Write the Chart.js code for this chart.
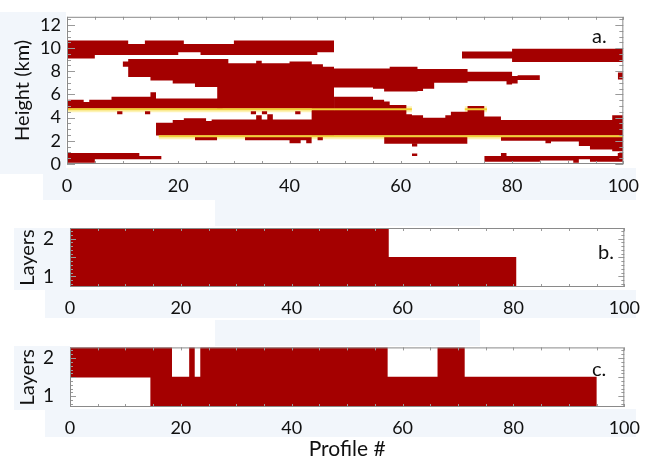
<!DOCTYPE html>
<html>
<head>
<meta charset="utf-8">
<script src="https://cdn.jsdelivr.net/npm/chart.js@4.4.0/dist/chart.umd.min.js"></script>
<style>
    body { margin: 0; background: #fff; }
    #wrap { position: relative; width: 650px; height: 462px; overflow: hidden; font-family: Lato, sans-serif; }
    .shade { position: absolute; background: #f2f6fb; }
    canvas { position: absolute; left: 0; }
    .tag { position: absolute; font-size: 20px; color: #111; line-height: 1; }
</style>
</head>
<body>
<div id="wrap">
    <div class="shade" style="left:0;top:12px;width:66px;height:162px"></div>
    <div class="shade" style="left:43px;top:168px;width:593px;height:32px"></div>
    <div class="shade" style="left:215px;top:200px;width:265px;height:26px"></div>
    <div class="shade" style="left:14px;top:228px;width:56px;height:62px"></div>
    <div class="shade" style="left:45px;top:290px;width:591px;height:28px"></div>
    <div class="shade" style="left:215px;top:320px;width:265px;height:26px"></div>
    <div class="shade" style="left:14px;top:346px;width:56px;height:64px"></div>
    <div class="shade" style="left:45px;top:409px;width:591px;height:28px"></div>

    <canvas id="chartA" width="650" height="205" style="top:0"></canvas>
    <canvas id="chartB" width="650" height="120" style="top:200px"></canvas>
    <canvas id="chartC" width="650" height="142" style="top:320px"></canvas>

    <div class="tag" style="left:592px;top:25px">a.</div>
    <div class="tag" style="left:598px;top:241px">b.</div>
    <div class="tag" style="left:592px;top:358px">c.</div>
</div>

<script>
/*Axis ticks*/
var profileTicks = [0, 20, 40, 60, 80, 100];
var heightTicks = [0, 2, 4, 6, 8, 10, 12];
var layerTicks = [1, 2];

/*Panel a - cloud runs: [first profile, end profile, base km, top km]
  runs that follow on without a break are drawn as one shape*/
var cirrusRuns = [
    [0, 5, 9.1, 10.65], [5, 11, 9.4, 10.65], [11, 14, 9.4, 10.35], [14, 20, 9.4, 10.65],
    [20, 21, 9.65, 10.65], [21, 24, 9.65, 10.35], [24, 30, 9.4, 10.35], [30, 45, 9.4, 10.65],
    [45, 48, 9.65, 10.65],
    [71, 80, 9.1, 9.7], [80, 100, 8.8, 9.95]
];
var edgeRuns = [[99, 100, 7.3, 7.9]];
var midLeftRuns = [
    [10, 11, 8.4, 8.85], [11, 15, 7.5, 9.05], [15, 19, 7.2, 9.05], [19, 23, 6.95, 9.05],
    [23, 27, 6.65, 9.05], [27, 29, 4.78, 9.05], [29, 34, 4.78, 8.7], [34, 35, 4.78, 8.9],
    [35, 40, 4.78, 8.7], [40, 44, 4.78, 8.85], [44, 46, 2.45, 8.6], [46, 48, 2.45, 8.4]
];
var midRightRuns = [
    [47, 55, 6.6, 8.25], [55, 57, 6.5, 8.25], [57, 58, 6.25, 8.25], [58, 63, 6.25, 8.4],
    [63, 64, 6.3, 8.2], [64, 66, 6.5, 8.2], [66, 72, 7.0, 8.2], [72, 79, 7.15, 7.95],
    [79, 80, 6.85, 7.95], [80, 81, 6.95, 7.6], [81, 85, 7.25, 7.65]
];
var fiveKmRuns = [
    [0, 3, 4.78, 5.55], [3, 4, 4.78, 5.35], [4, 8, 4.78, 5.55], [8, 15, 4.78, 5.8],
    [15, 16, 4.78, 6.2], [16, 28, 4.78, 5.65]
];
var lowerRuns = [
    [16, 19, 2.45, 3.55], [19, 21, 2.45, 3.8], [21, 25, 2.45, 3.95], [25, 26, 2.45, 3.7],
    [26, 34, 2.45, 3.85], [34, 35, 2.45, 4.2], [35, 36, 2.45, 3.85], [36, 37, 2.45, 4.3],
    [37, 44, 2.45, 3.85], [44, 48, 2.45, 4.6], [48, 55, 2.45, 5.8], [55, 57, 2.45, 5.55],
    [57, 58, 2.45, 5.4], [58, 61, 2.45, 5.1], [61, 62, 2.45, 4.3], [62, 64, 2.45, 4.2],
    [64, 68, 2.45, 4.0], [68, 69, 2.45, 4.2], [69, 72, 2.45, 4.5], [72, 75, 2.45, 5.0],
    [75, 78, 2.45, 4.1], [78, 98, 2.45, 3.8], [98, 100, 2.45, 4.2]
];
var dotRuns = [
    [9, 10, 4.3, 4.55], [14, 15, 4.3, 4.55], [33, 34, 4.3, 4.55], [35, 36, 4.3, 4.55], [41, 42, 4.3, 4.55]
];
var belowBaseRuns = [
    [23, 27, 2.05, 2.35],
    [32, 40, 2.05, 2.35], [40, 42, 1.8, 2.35], [42, 43, 2.05, 2.35], [43, 44, 1.8, 2.35],
    [45, 46, 2.05, 2.35],
    [57, 72, 1.75, 2.35], [62, 63, 1.5, 1.8], [62, 63, 0.7, 0.9],
    [78, 86, 2.0, 2.35], [86, 87, 1.8, 2.35], [87, 92, 1.95, 2.35], [92, 94, 1.55, 2.35],
    [94, 98, 1.25, 2.35], [98, 100, 1.1, 2.35]
];
var surfaceRuns = [
    [0, 5, 0.1, 0.95], [5, 13, 0.4, 0.95], [13, 17, 0.4, 0.7],
    [75, 78, 0.2, 0.7], [78, 79, 0.2, 0.95], [79, 85, 0.2, 0.7], [85, 91, 0.3, 0.7],
    [91, 92, 0.1, 0.7], [92, 94, 0.4, 0.7], [94, 99, 0.2, 0.7], [99, 100, 0.2, 0.95]
];

/*Panel a - yellow lines*/
var upperLineProfiles = [0, 62];
var upperLineHeights = [4.72, 4.72];
var upperLine2Profiles = [71.5, 75.5];
var upperLine2Heights = [4.72, 4.72];
var lowerLineProfiles = [16.5, 100];
var lowerLineHeights = [2.4, 2.4];

/*Panels b and c - layer runs: [from profile, to profile]*/
var bLayer1Runs = [[0, 80.5]];
var bLayer2Runs = [[0, 57.5]];
var cLayer1Runs = [[14.5, 95]];
var cLayer2Runs = [[0, 18.4], [21.5, 22.5], [23.5, 57.3], [66.3, 71.2]];

var RED = '#a40000';
var FONT = 'Lato, sans-serif';

/*Utils*/
/*join runs that touch into stepped outlines (base + top)*/
function bandsFromRuns(runs) {
    var bands = [], cur = null;
    runs.forEach(function(r) {
        if (!cur || r[0] !== cur.end) {
            cur = {base: [], top: []};
            bands.push(cur);
        }
        cur.base.push({x: r[0], y: r[2]});
        cur.top.push({x: r[0], y: r[3]});
        cur.end = r[1]; cur.lastBase = r[2]; cur.lastTop = r[3];
    });
    bands.forEach(function(b) {
        b.base.push({x: b.end, y: b.lastBase});
        b.top.push({x: b.end, y: b.lastTop});
    });
    return bands;
}
function pushBands(datasets, runs) {
    bandsFromRuns(runs).forEach(function(b) {
        datasets.push({type: 'line', data: b.base, stepped: true, borderWidth: 0, borderColor: 'transparent',
                       pointRadius: 0, fill: false, order: 2});
        datasets.push({type: 'line', data: b.top, stepped: true, borderWidth: 0, borderColor: 'transparent',
                       pointRadius: 0, fill: '-1', backgroundColor: RED, order: 2});
    });
}
function toPoints(xs, ys) {
    return xs.map(function(x, i) { return {x: x, y: ys[i]}; });
}
function layerBars(runs, level) {
    return runs.map(function(r) { return {y: level, x: [r[0], r[1]]}; });
}
function lineSet(points, color, width, order) {
    return {type: 'line', data: points, borderColor: color, borderWidth: width, pointRadius: 0,
            fill: false, tension: 0, borderCapStyle: 'butt', order: order};
}
function fixTicks(list) {
    return function(axis) { axis.ticks = list.map(function(v) { return {value: v}; }); };
}

/*Frame with inward tick marks*/
var frameTicks = {
    id: 'frameTicks',
    afterDraw: function(chart, args, opts) {
        var ca = chart.chartArea, ctx = chart.ctx, xs = chart.scales.x, ys = chart.scales.y;
        ctx.save();
        ctx.strokeStyle = '#9a9a9a';
        ctx.lineWidth = 1;
        ctx.beginPath();
        var v, px, len;
        for (v = 0; v <= xs.max + 1e-6; v += opts.xStep) {
            px = Math.round(xs.getPixelForValue(v)) + 0.5;
            ctx.moveTo(px, ca.top); ctx.lineTo(px, ca.top + opts.xLen);
            ctx.moveTo(px, ca.bottom); ctx.lineTo(px, ca.bottom - opts.xLen);
        }
        for (v = Math.ceil(ys.min / opts.yStep) * opts.yStep; v <= ys.max + 1e-6; v += opts.yStep) {
            px = Math.round(ys.getPixelForValue(v)) + 0.5;
            len = Math.abs(v / opts.yMajor - Math.round(v / opts.yMajor)) < 1e-6 ? opts.yLong : opts.yLen;
            ctx.moveTo(ca.left, px); ctx.lineTo(ca.left + len, px);
            ctx.moveTo(ca.right, px); ctx.lineTo(ca.right - len, px);
        }
        ctx.stroke();
        ctx.strokeStyle = '#8a8a8a';
        ctx.strokeRect(ca.left + 0.5, ca.top + 0.5, ca.width - 1, ca.height - 1);
        ctx.restore();
    }
};

function xAxis(pad, title) {
    return {
        type: 'linear', position: 'bottom', min: 0, max: 100, offset: false,
        grid: {display: false, drawTicks: false}, border: {display: false},
        afterBuildTicks: fixTicks(profileTicks),
        ticks: {color: '#111', padding: pad, maxRotation: 0, autoSkip: false, font: {family: FONT, size: 18}},
        title: title
    };
}

/*Chart a*/
var aSets = [
    lineSet(toPoints(upperLineProfiles, upperLineHeights), '#fdf3b4', 6, 3),
    lineSet(toPoints(upperLine2Profiles, upperLine2Heights), '#fdf3b4', 6, 3),
    lineSet(toPoints(lowerLineProfiles, lowerLineHeights), '#fdf3b4', 6, 3)
];
[cirrusRuns, edgeRuns, midLeftRuns, midRightRuns, fiveKmRuns, lowerRuns, dotRuns, belowBaseRuns, surfaceRuns]
    .forEach(function(runs) { pushBands(aSets, runs); });
aSets.push(lineSet(toPoints(upperLineProfiles, upperLineHeights), '#f2cf36', 2, 1));
aSets.push(lineSet(toPoints(upperLine2Profiles, upperLine2Heights), '#f2cf36', 2, 1));
aSets.push(lineSet(toPoints(lowerLineProfiles, lowerLineHeights), '#f2cf36', 2, 1));

new Chart(document.getElementById('chartA'), {
    type: 'line',
    data: {datasets: aSets},
    options: {
        animation: false, responsive: false,
        layout: {padding: {top: 14, right: 16, left: 0, bottom: 0}},
        plugins: {legend: {display: false}, tooltip: {enabled: false},
                  frameTicks: {xStep: 5, xLen: 3, yStep: 0.5, yLen: 4, yMajor: 2, yLong: 8}},
        scales: {
            x: Object.assign(xAxis(11), {afterFit: function(s) { s.height = 41; }}),
            y: {
                type: 'linear', min: 0, max: 12.7,
                grid: {display: false, drawTicks: false}, border: {display: false},
                afterBuildTicks: fixTicks(heightTicks),
                afterFit: function(s) { s.width = 67; },
                ticks: {color: '#111', padding: 6, autoSkip: false, font: {family: FONT, size: 18}},
                title: {display: true, text: 'Height (km)', color: '#111', padding: {top: 11, bottom: 0},
                        font: {family: FONT, size: 20}}
            }
        }
    },
    plugins: [frameTicks]
});

/*Charts b and c*/
function layerChart(id, l1, l2, topPad, xHeight, xTitle) {
    return new Chart(document.getElementById(id), {
        type: 'bar',
        data: {
            datasets: [
                {data: layerBars(l1, 1), backgroundColor: RED, borderWidth: 0,
                 grouped: false, barPercentage: 1.02, categoryPercentage: 1},
                {data: layerBars(l2, 2), backgroundColor: RED, borderWidth: 0,
                 grouped: false, barPercentage: 1.02, categoryPercentage: 1}
            ]
        },
        options: {
            indexAxis: 'y', animation: false, responsive: false,
            layout: {padding: {top: topPad, right: 14, left: 0, bottom: 0}},
            plugins: {legend: {display: false}, tooltip: {enabled: false},
                      frameTicks: {xStep: 5, xLen: 3, yStep: 0.1, yLen: 3, yMajor: 0.5, yLong: 6}},
            scales: {
                x: Object.assign(xAxis(10, xTitle), {afterFit: function(s) { s.height = xHeight; }}),
                y: {
                    type: 'linear', min: 0.72, max: 2.28, offset: false,
                    grid: {display: false, drawTicks: false}, border: {display: false},
                    afterBuildTicks: fixTicks(layerTicks),
                    afterFit: function(s) { s.width = 70; },
                    ticks: {color: '#111', padding: 16, autoSkip: false, font: {family: FONT, size: 19}},
                    title: {display: true, text: 'Layers', color: '#111', padding: {top: 16, bottom: 0},
                            font: {family: FONT, size: 20}}
                }
            }
        },
        plugins: [frameTicks]
    });
}

layerChart('chartB', bLayer1Runs, bLayer2Runs, 28, 33);
layerChart('chartC', cLayer1Runs, cLayer2Runs, 27, 55,
    {display: true, text: 'Profile #', color: '#111', padding: {top: 0, bottom: 0}, font: {family: FONT, size: 21}});
</script>
</body>
</html>
